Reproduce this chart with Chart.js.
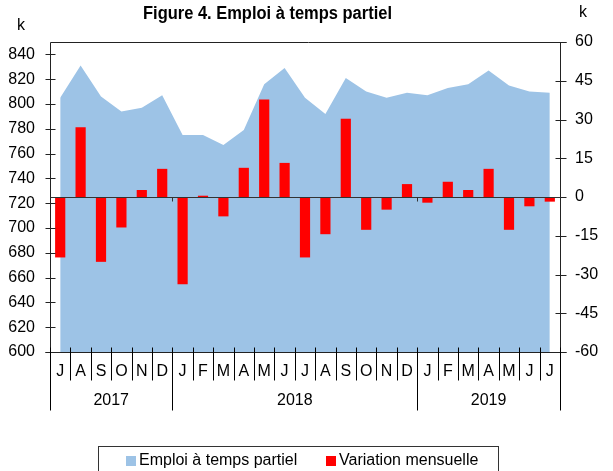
<!DOCTYPE html>
<html>
<head>
<meta charset="utf-8">
<script src="https://cdn.jsdelivr.net/npm/chart.js@4.4.1/dist/chart.umd.min.js"></script>
<style>
  html, body { margin: 0; padding: 0; background: #fff; }
  #wrap { width: 613px; height: 471px; position: relative; }
</style>
</head>
<body>
<div id="wrap"><canvas id="chart" width="613" height="471"></canvas></div>
<script>
// Mois : juillet 2017 -> juillet 2019
const months = ['J', 'A', 'S', 'O', 'N', 'D', 'J', 'F', 'M', 'A', 'M', 'J', 'J', 'A', 'S', 'O', 'N', 'D', 'J', 'F', 'M', 'A', 'M', 'J', 'J'];
const yearLabels = ['2017', '2018', '2019'];
const yearSpans = [6, 12, 7];

// Emploi à temps partiel (k, axe gauche)
const partTime = [805, 831, 806, 794, 797, 807, 775, 775, 767, 779, 816, 829, 805,
                  792, 821, 810, 805, 809, 807, 813, 816, 827, 815, 810, 809];
// Variation mensuelle (k, axe droit)
const monthlyChange = [-23.4, 27.0, -25.1, -11.8, 2.7, 10.9, -33.8, 0.5, -7.5, 11.3, 37.7, 13.2, -23.4,
                       -14.4, 30.3, -12.7, -4.9, 5.0, -2.2, 5.9, 2.7, 10.9, -12.7, -3.6, -1.8];

const leftTicks = [600, 620, 640, 660, 680, 700, 720, 740, 760, 780, 800, 820, 840];
const rightTicks = [-60, -45, -30, -15, 0, 15, 30, 45, 60];

const FONT = '"Liberation Sans", Arial, sans-serif';
const AREA_COLOR = '#9DC3E6';
const BAR_COLOR = '#FF0000';

// Dessin des axes, séparateurs, titre et légende
const decorPlugin = {
  id: 'decor',
  afterDraw(chart) {
    const ctx = chart.ctx;
    const { left, right, top, bottom } = chart.chartArea;
    const yL = chart.scales.y;
    const yR = chart.scales.y1;
    const n = months.length;
    const w = (right - left) / n;
    const L = Math.round(left) + 0.5;
    const R = Math.round(right) + 0.5;
    const T = Math.round(top) + 0.5;
    const B = Math.round(bottom) + 0.5;

    ctx.save();
    ctx.strokeStyle = '#222';
    ctx.lineWidth = 1;

    // cadre
    ctx.beginPath();
    ctx.moveTo(L, T); ctx.lineTo(R + 6, T);
    ctx.moveTo(L, T); ctx.lineTo(L, B);
    ctx.moveTo(R, T); ctx.lineTo(R, B);
    ctx.moveTo(L - 5, B); ctx.lineTo(R + 6, B);
    ctx.stroke();

    // graduations gauche / droite
    ctx.beginPath();
    leftTicks.forEach(v => {
      const y = Math.round(yL.getPixelForValue(v)) + 0.5;
      ctx.moveTo(L - 5, y); ctx.lineTo(L + 5, y);
    });
    rightTicks.forEach(v => {
      const y = Math.round(yR.getPixelForValue(v)) + 0.5;
      ctx.moveTo(R - 5, y); ctx.lineTo(R + 6, y);
    });
    ctx.stroke();

    // ligne du zéro
    const z = Math.round(yR.getPixelForValue(0)) + 0.5;
    ctx.beginPath();
    ctx.strokeStyle = '#333';
    ctx.moveTo(L, z); ctx.lineTo(R, z);
    let acc = 0;
    yearSpans.slice(0, -1).forEach(s => {
      acc += s;
      const x = Math.round(left + acc * w) + 0.5;
      ctx.moveTo(x, z); ctx.lineTo(x, z + 4);
    });
    ctx.stroke();

    // séparateurs des mois et des années
    const yearBounds = [0];
    yearSpans.forEach(s => yearBounds.push(yearBounds[yearBounds.length - 1] + s));
    ctx.beginPath();
    ctx.strokeStyle = '#000';
    for (let i = 0; i <= n; i++) {
      const x = Math.round(left + i * w) + 0.5;
      const isYear = yearBounds.includes(i);
      ctx.moveTo(x, B - 5);
      ctx.lineTo(x, isYear ? B + 58 : B + 28);
    }
    ctx.stroke();

    // libellés
    ctx.fillStyle = '#000';
    ctx.font = '16px ' + FONT;
    ctx.textAlign = 'center';
    ctx.textBaseline = 'middle';
    months.forEach((m, i) => {
      ctx.fillText(m, left + (i + 0.5) * w, 372);
    });
    yearLabels.forEach((yl, i) => {
      const cx = left + (yearBounds[i] + yearBounds[i + 1]) / 2 * w;
      ctx.fillText(yl, cx, 401);
    });

    // unités
    ctx.fillText('k', 21, 26);
    ctx.fillText('k', 583, 13);

    // titre (un peu condensé comme dans l'original)
    ctx.font = 'bold 18px ' + FONT;
    ctx.fillText('Figure 4. Emploi à temps partiel', 267.5, 14, 249);

    // légende
    ctx.strokeStyle = '#333';
    ctx.strokeRect(98.5, 446.5, 400, 40);
    ctx.fillStyle = AREA_COLOR;
    ctx.fillRect(126, 456, 10, 10);
    ctx.fillStyle = BAR_COLOR;
    ctx.fillRect(326, 456, 10, 10);
    ctx.fillStyle = '#000';
    ctx.font = '16px ' + FONT;
    ctx.textAlign = 'left';
    ctx.fillText('Emploi à temps partiel', 139, 461);
    ctx.fillText('Variation mensuelle', 339, 461);

    ctx.restore();
  }
};

new Chart(document.getElementById('chart').getContext('2d'), {
  type: 'bar',
  data: {
    labels: months,
    datasets: [
      {
        type: 'bar',
        label: 'Variation mensuelle',
        data: monthlyChange,
        yAxisID: 'y1',
        backgroundColor: BAR_COLOR,
        borderWidth: 0,
        barPercentage: 0.5,
        categoryPercentage: 1.0,
        order: 1
      },
      {
        type: 'line',
        label: 'Emploi à temps partiel',
        data: partTime,
        yAxisID: 'y',
        backgroundColor: AREA_COLOR,
        borderWidth: 0,
        pointRadius: 0,
        tension: 0,
        fill: 'start',
        order: 2
      }
    ]
  },
  options: {
    responsive: false,
    animation: false,
    layout: { padding: { top: 42, bottom: 119, left: 0, right: 0 } },
    plugins: {
      legend: { display: false },
      title: { display: false },
      tooltip: { enabled: false }
    },
    scales: {
      x: { type: 'category', display: false, offset: true },
      y: {
        position: 'left',
        min: 600,
        max: 850,
        ticks: { stepSize: 20, includeBounds: false, padding: 15, color: '#000', font: { family: FONT, size: 16 } },
        grid: { display: false, drawTicks: false },
        border: { display: false },
        afterFit: s => { s.width = 50; }
      },
      y1: {
        position: 'right',
        min: -60,
        max: 60,
        ticks: { stepSize: 15, padding: 15, color: '#000', font: { family: FONT, size: 16 } },
        grid: { display: false, drawTicks: false },
        border: { display: false },
        afterFit: s => { s.width = 53; }
      }
    }
  },
  plugins: [decorPlugin]
});
</script>
</body>
</html>
